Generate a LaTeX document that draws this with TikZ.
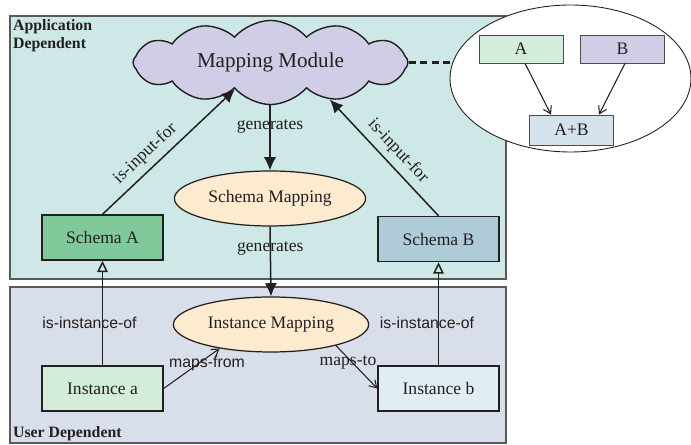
\documentclass[tikz,border=0pt]{standalone}
\usepackage{fontspec}
\setmainfont{Liberation Serif}
\setsansfont{Liberation Sans}
\usetikzlibrary{positioning, arrows.meta, shapes.geometric, shapes.symbols, calc}

\definecolor{appbg}{HTML}{CDE8E6}
\definecolor{userbg}{HTML}{D9DEEB}
\definecolor{cloudfill}{HTML}{D0CEE7}
\definecolor{mapfill}{HTML}{FDEBCF}
\definecolor{schemaA}{HTML}{80C99A}
\definecolor{schemaB}{HTML}{AFCBD8}
\definecolor{instA}{HTML}{D4ECDA}
\definecolor{instB}{HTML}{E0EDF3}
\definecolor{sumfill}{HTML}{D3E2EB}
\definecolor{ink}{HTML}{231F20}

\begin{document}
\begin{tikzpicture}[
        x=0.02cm, y=-0.02cm,
        every node/.style={text=ink},
        panel/.style={draw=black!65, line width=0.6pt},
        block/.style={rectangle, draw=ink, line width=0.8pt, minimum width=2.42cm, minimum height=0.9cm, align=center, font=\fontsize{10}{12}\selectfont},
        smallblock/.style={rectangle, draw=black!70, line width=0.5pt, minimum width=1.68cm, minimum height=0.56cm, font=\fontsize{10}{12}\selectfont},
        mapping/.style={ellipse, draw=ink, line width=0.7pt, fill=mapfill, minimum width=2.98cm, minimum height=1.1cm, font=\fontsize{10}{12}\selectfont},
        arrow/.style={-{Latex[length=7.5pt,width=7pt]}, line width=0.85pt, draw=ink},
        isa/.style={-{Triangle[open, length=6.5pt, width=6pt]}, line width=0.85pt, draw=ink},
        pointer/.style={-{Straight Barb[length=4pt,width=5pt]}, line width=0.6pt, draw=ink},
        lbl/.style={font=\fontsize{10}{12}\selectfont},
        sanslbl/.style={font=\sffamily\fontsize{9}{11}\selectfont},
        title/.style={font=\bfseries\fontsize{9}{10.5}\selectfont, align=left, inner sep=1pt},
    ]
        \useasboundingbox (0,0) rectangle (691,445);

        % the two layers
        \draw[panel, fill=appbg] (10,16) rectangle (506,279);
        \draw[panel, fill=userbg] (10,287) rectangle (506,443);
        \node[title, anchor=north west] (app) at (11,17) {Application\\Dependent};
        \node[title, anchor=south west] (usr) at (11,443) {User Dependent};

        \node[cloud, cloud puffs=12, cloud puff arc=100, aspect=3.8, draw=ink, line width=0.8pt, fill=cloudfill,
              minimum width=5.5cm, minimum height=1.42cm, font=\fontsize{12}{14}\selectfont] (mm) at (270.5,62.5) {Mapping Module};

        \node[mapping] (sm) at (270,198.5) {Schema Mapping};
        \node[mapping] (im) at (271,324.5) {Instance Mapping};

        \node[block, fill=schemaA] (scha) at (102.5,237.5) {Schema A};
        \node[block, fill=schemaB] (schb) at (438.5,239) {Schema B};
        \node[block, fill=instA] (insa) at (102.5,388.5) {Instance a};
        \node[block, fill=instB] (insb) at (438.5,388.5) {Instance b};

        % zoomed view of the module
        \draw[dash pattern=on 4pt off 2.5pt, line width=1.2pt, draw=ink] (mm.east) -- (mm.east -| 451,0);
        \node[ellipse, draw=ink, line width=0.5pt, fill=white, minimum width=4.82cm, minimum height=2.94cm] (zoom) at (570.5,78.5) {};
        \node[smallblock, fill=instA] (ba) at (521,49) {A};
        \node[smallblock, fill=cloudfill] (bb) at (622.5,49) {B};
        \node[smallblock, fill=sumfill, minimum height=0.6cm] (bab) at (571.5,130) {A+B};
        \draw[pointer] ($(ba.south)+(4,0)$) -- ($(bab.north)+(-20.5,0)$);
        \draw[pointer] ($(bb.south)+(2.5,0)$) -- ($(bab.north)+(27.5,0)$);

        \draw[arrow] (mm.south -| sm.north) -- node[lbl, pos=0.33] {generates} (sm.north);
        \draw[arrow] (sm.south) -- node[lbl, pos=0.32] {generates} (im.north);
        \draw[arrow] (scha.north) -- node[lbl, sloped, above, pos=0.4] {is-input-for} (mm.217);
        \draw[arrow] (schb.north) -- node[lbl, sloped, above, pos=0.47] {is-input-for} (mm.-32);

        \draw[isa] (insa.north) -- (scha.south);
        \draw[isa] (insb.north) -- (schb.south);
        \node[sanslbl] (ioa) at (89.5,323) {is-instance-of};
        \node[sanslbl] (iob) at (427,323) {is-instance-of};

        \draw[pointer] (insa.east) -- (im.205);
        \draw[pointer] (im.-18) -- (insb.west);
        \node[sanslbl] (mf) at (207,363) {maps-from};
        \node[lbl] (mt) at (348,362) {maps-to};
\end{tikzpicture}
\end{document}
